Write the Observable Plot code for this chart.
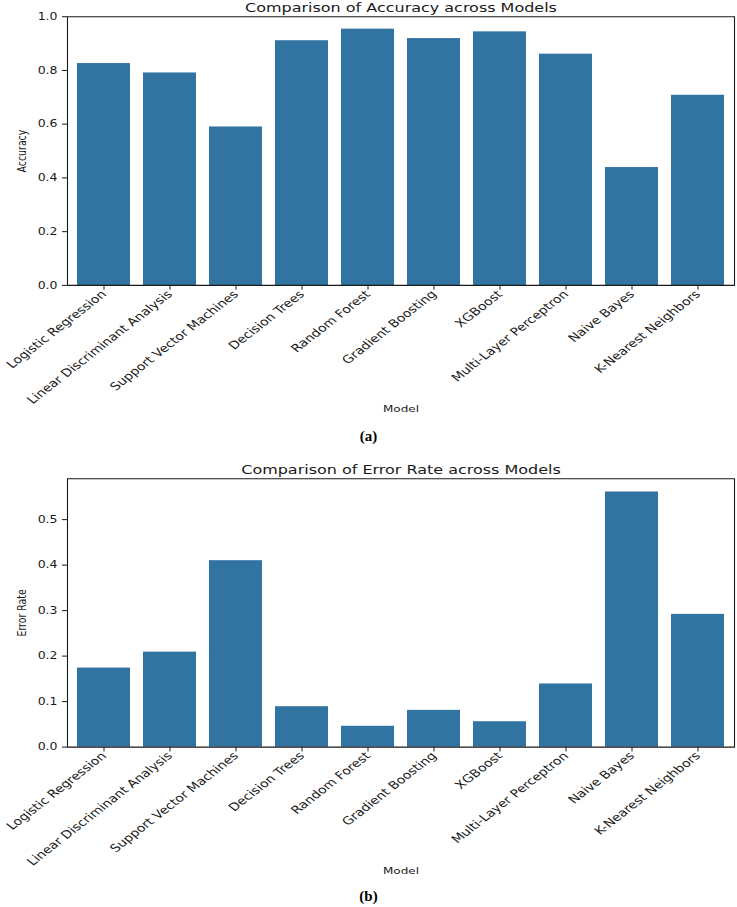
<!DOCTYPE html>
<html>
<head>
<meta charset="utf-8">
<script src="https://cdn.jsdelivr.net/npm/d3@7"></script>
<script src="https://cdn.jsdelivr.net/npm/@observablehq/plot@0.6"></script>
<style>
  body { margin: 0; background: #fff; width: 737px; height: 907px; position: relative; overflow: hidden; font-family: "DejaVu Sans", sans-serif; }
  .panel { position: absolute; left: 0; width: 737px; }
  .panel svg * { vector-effect: non-scaling-stroke; }
  .cap { position: absolute; left: 0; width: 737px; text-align: center; font: bold 15px "Liberation Serif", serif; color: #000; line-height: 18px; }
</style>
</head>
<body>
<div id="panelA" class="panel" style="top:0px"></div>
<div class="cap" style="top:427px">(a)</div>
<div id="panelB" class="panel" style="top:450px"></div>
<div class="cap" style="top:887px">(b)</div>
<script>
// Model names, in plotting order
const models = [
  "Logistic Regression",
  "Linear Discriminant Analysis",
  "Support Vector Machines",
  "Decision Trees",
  "Random Forest",
  "Gradient Boosting",
  "XGBoost",
  "Multi-Layer Perceptron",
  "Naive Bayes",
  "K-Nearest Neighbors"
];

// Test accuracy per model
const accuracy = [0.826, 0.791, 0.590, 0.911, 0.954, 0.919, 0.944, 0.861, 0.439, 0.708];

// Error rate per model
const errorRate = [0.174, 0.209, 0.410, 0.089, 0.046, 0.081, 0.056, 0.139, 0.561, 0.292];

// Tick values for the two value axes
const accuracyTicks = [0.0, 0.2, 0.4, 0.6, 0.8, 1.0];
const errorTicks = [0.0, 0.1, 0.2, 0.3, 0.4, 0.5];

const barColor = "#3274a1";
const inkColor = "#1a1a1a";
// the figure is drawn slightly flattened vertically
const squash = 0.78;

function panel({values, title, ylabel, yDomain, yTicks, marginTop, marginBottom, displayHeight}) {
  const height = displayHeight / squash;
  const data = models.map((model, i) => ({model, value: values[i]}));
  const svg = Plot.plot({
    width: 737,
    height,
    marginTop,
    marginBottom,
    marginLeft: 67,
    marginRight: 3,
    style: {fontFamily: "DejaVu Sans", color: inkColor, background: "white", overflow: "visible"},
    x: {domain: models, paddingInner: 0.2, paddingOuter: 0.1, align: 0.5},
    y: {domain: yDomain},
    marks: [
      Plot.barY(data, {x: "model", y: "value", fill: barColor}),
      Plot.frame({stroke: inkColor, strokeWidth: 1.1}),
      Plot.axisY({ticks: yTicks, tickFormat: d => d.toFixed(1), tickSize: 5, tickPadding: 5, fontSize: 12.5, label: null}),
      Plot.axisX({tickSize: 6, tickPadding: 3, tickRotate: -45, fontSize: 14, label: null}),
      Plot.text([title], {text: d => d, frameAnchor: "top", dy: -6, lineAnchor: "bottom", textAnchor: "middle", fontSize: 16, fill: inkColor}),
      Plot.text([ylabel], {text: d => d, frameAnchor: "left", dx: -45, rotate: -90, textAnchor: "middle", lineAnchor: "middle", fontSize: 12, fill: inkColor}),
      Plot.text(["Model"], {text: d => d, frameAnchor: "bottom", dy: 159, lineAnchor: "middle", textAnchor: "middle", fontSize: 12, fill: inkColor})
    ]
  });
  svg.setAttribute("height", displayHeight);
  svg.setAttribute("preserveAspectRatio", "none");
  svg.style.width = "737px";
  svg.style.maxWidth = "none";
  svg.style.height = displayHeight + "px";
  svg.style.display = "block";
  return svg;
}

document.getElementById("panelA").append(panel({
  values: accuracy,
  title: "Comparison of Accuracy across Models",
  ylabel: "Accuracy",
  yDomain: [0, 1.0],
  yTicks: accuracyTicks,
  marginTop: 16.3 / squash,
  marginBottom: (425 - 285) / squash,
  displayHeight: 425
}));

document.getElementById("panelB").append(panel({
  values: errorRate,
  title: "Comparison of Error Rate across Models",
  ylabel: "Error Rate",
  yDomain: [0, 0.59],
  yTicks: errorTicks,
  marginTop: 28.3 / squash,
  marginBottom: (432 - 296.7) / squash,
  displayHeight: 432
}));
</script>
</body>
</html>
